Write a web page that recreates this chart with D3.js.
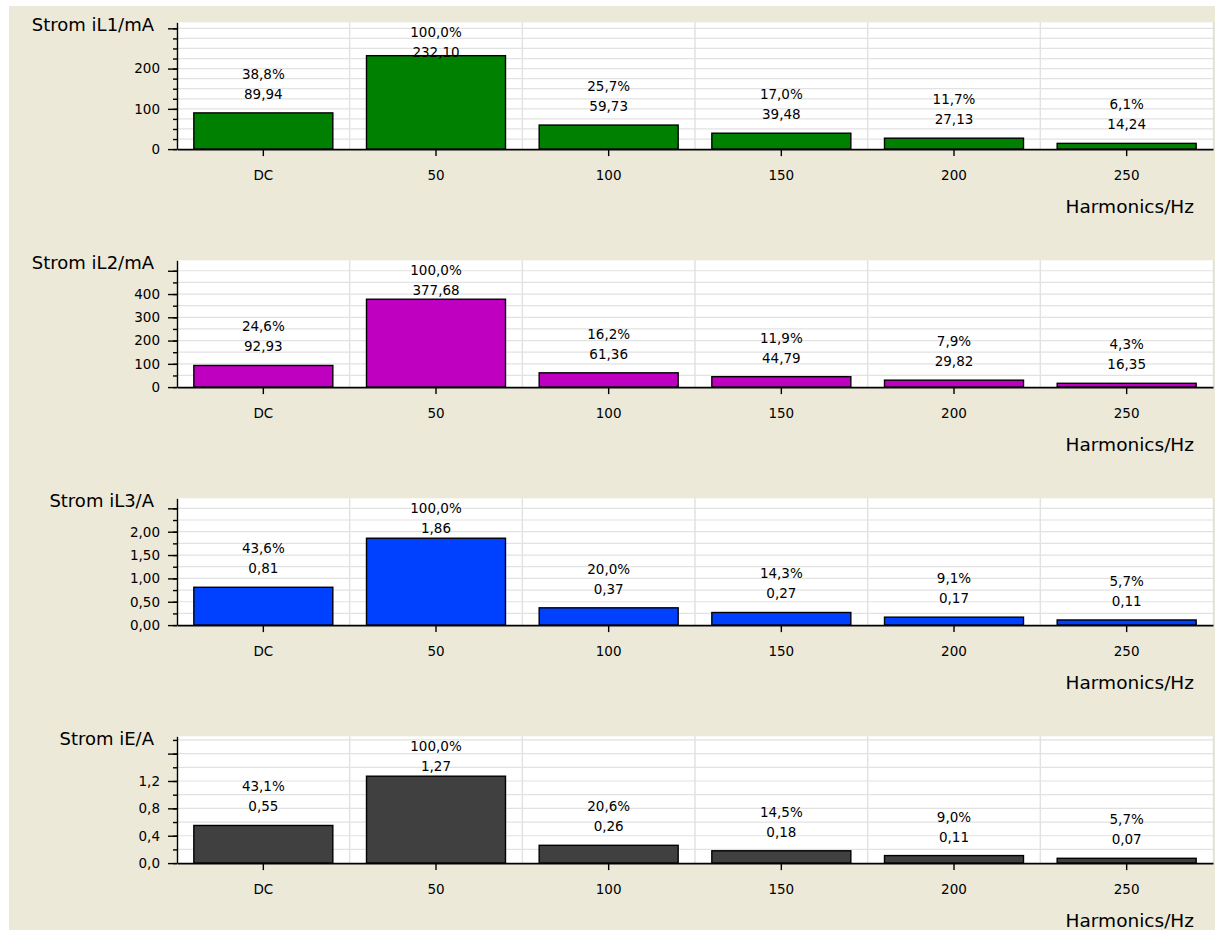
<!DOCTYPE html>
<html>
<head>
<meta charset="utf-8">
<script src="https://cdn.jsdelivr.net/npm/d3@7"></script>
<style>
  html, body { margin: 0; padding: 0; background: #ffffff; }
  svg { display: block; }
  text { font-family: "DejaVu Sans", sans-serif; fill: #000; }
</style>
</head>
<body>
<svg id="chart" width="1215" height="936"></svg>
<script>
// ---------- data ----------
const categories = ["DC", "50", "100", "150", "200", "250"];

const titles = ["Strom iL1/mA", "Strom iL2/mA", "Strom iL3/A", "Strom iE/A"];
const xTitle = "Harmonics/Hz";

const valuesL1 = [89.94, 232.10, 59.73, 39.48, 27.13, 14.24];
const percentL1 = [38.8, 100.0, 25.7, 17.0, 11.7, 6.1];

const valuesL2 = [92.93, 377.68, 61.36, 44.79, 29.82, 16.35];
const percentL2 = [24.6, 100.0, 16.2, 11.9, 7.9, 4.3];

const valuesL3 = [0.81, 1.86, 0.37, 0.27, 0.17, 0.11];
const percentL3 = [43.6, 100.0, 20.0, 14.3, 9.1, 5.7];

const valuesE = [0.55, 1.27, 0.26, 0.18, 0.11, 0.07];
const percentE = [43.1, 100.0, 20.6, 14.5, 9.0, 5.7];

// axis domains and ticks
const yMaxes = [315, 545, 2.715, 1.853];
const majorTicksL1 = [0, 100, 200, 300];
const majorTicksL2 = [0, 100, 200, 300, 400, 500];
const majorTicksL3 = [0, 0.5, 1.0, 1.5, 2.0, 2.5];
const majorTicksE  = [0, 0.4, 0.8, 1.2, 1.6];
const labeledTicksL1 = [0, 100, 200];
const labeledTicksL2 = [0, 100, 200, 300, 400];
const labeledTicksL3 = [0, 0.5, 1.0, 1.5, 2.0];
const labeledTicksE  = [0, 0.4, 0.8, 1.2];
const minorTicksL1 = [0, 25, 50, 75, 100, 125, 150, 175, 200, 225, 250, 275, 300];
const minorTicksL2 = [0, 50, 100, 150, 200, 250, 300, 350, 400, 450, 500];
const minorTicksL3 = [0, 0.25, 0.5, 0.75, 1.0, 1.25, 1.5, 1.75, 2.0, 2.25, 2.5];
const minorTicksE  = [0, 0.2, 0.4, 0.6, 0.8, 1.0, 1.2, 1.4, 1.6, 1.8];
const tickDecimals = [0, 0, 2, 1];
const valueDecimals = [2, 2, 2, 2];

const barColors = ["#008000", "#C000C0", "#0040FF", "#404040"];

// ---------- layout ----------
const svg = d3.select("#chart");
const W = 1215, H = 936;
const plotLeft = 177, plotRight = 1213;
const firstTop = 22.3, panelStep = 238, plotH = 126.8;

svg.append("rect").attr("x", 0).attr("y", 0).attr("width", W).attr("height", H).attr("fill", "#ffffff");
svg.append("rect").attr("x", 9).attr("y", 6).attr("width", W - 9).attr("height", 924).attr("fill", "#ECE9D8");

const panels = [
  { values: valuesL1, percent: percentL1, major: majorTicksL1, labeled: labeledTicksL1, minor: minorTicksL1 },
  { values: valuesL2, percent: percentL2, major: majorTicksL2, labeled: labeledTicksL2, minor: minorTicksL2 },
  { values: valuesL3, percent: percentL3, major: majorTicksL3, labeled: labeledTicksL3, minor: minorTicksL3 },
  { values: valuesE,  percent: percentE,  major: majorTicksE,  labeled: labeledTicksE,  minor: minorTicksE }
];

const fmtComma = (v, d) => v.toFixed(d).replace(".", ",");

const x = d3.scaleBand()
  .domain(categories)
  .range([plotLeft, plotRight])
  .paddingInner(0.195)
  .paddingOuter(0.0975);
const step = x.step();

panels.forEach((p, i) => {
  const top = firstTop + i * panelStep;
  const bottom = top + plotH;
  const y = d3.scaleLinear().domain([0, yMaxes[i]]).range([bottom, top]);
  const g = svg.append("g");

  // plot background
  g.append("rect").attr("x", plotLeft).attr("y", top)
    .attr("width", plotRight - plotLeft).attr("height", plotH).attr("fill", "#ffffff");

  // horizontal grid
  g.selectAll("line.hgrid").data(p.minor.filter(t => t > 0)).join("line")
    .attr("class", "hgrid")
    .attr("x1", plotLeft).attr("x2", plotRight)
    .attr("y1", d => y(d)).attr("y2", d => y(d))
    .attr("stroke", "#E2E2E2").attr("stroke-width", 1.2);

  // vertical grid at category boundaries
  g.selectAll("line.vgrid").data(categories.slice(1)).join("line")
    .attr("class", "vgrid")
    .attr("x1", d => x(d) - step * 0.0975).attr("x2", d => x(d) - step * 0.0975)
    .attr("y1", top).attr("y2", bottom)
    .attr("stroke", "#E2E2E2").attr("stroke-width", 1.5);
  g.append("line")
    .attr("x1", plotRight + 0.5).attr("x2", plotRight + 0.5)
    .attr("y1", top).attr("y2", bottom)
    .attr("stroke", "#E0E0E0").attr("stroke-width", 1.5);

  // bars
  g.selectAll("rect.bar").data(p.values).join("rect")
    .attr("class", "bar")
    .attr("x", (d, j) => x(categories[j]))
    .attr("width", x.bandwidth())
    .attr("y", d => y(d))
    .attr("height", d => bottom - y(d))
    .attr("fill", barColors[i])
    .attr("stroke", "#000").attr("stroke-width", 1.4);

  // value & percent labels
  const valueCenter = d => Math.max(y(d) - 19, top + 30);
  g.selectAll("text.val").data(p.values).join("text")
    .attr("class", "val")
    .attr("x", (d, j) => x(categories[j]) + x.bandwidth() / 2)
    .attr("y", d => valueCenter(d) + 5)
    .attr("text-anchor", "middle")
    .attr("font-size", "13.5px")
    .text(d => fmtComma(d, valueDecimals[i]));
  g.selectAll("text.pct").data(p.percent).join("text")
    .attr("class", "pct")
    .attr("x", (d, j) => x(categories[j]) + x.bandwidth() / 2)
    .attr("y", (d, j) => valueCenter(p.values[j]) - 20 + 5)
    .attr("text-anchor", "middle")
    .attr("font-size", "13.5px")
    .text(d => fmtComma(d, 1) + "%");

  // minor y ticks
  const minorAxis = d3.axisLeft(y).tickValues(p.minor).tickSize(4).tickSizeOuter(0).tickFormat("");
  const gm = g.append("g").attr("transform", `translate(${plotLeft},0)`).call(minorAxis);
  gm.select(".domain").remove();
  gm.selectAll("line").attr("stroke", "#000").attr("stroke-width", 1.4);

  // major y ticks (with labels)
  const majorAxis = d3.axisLeft(y).tickValues(p.major).tickSize(9).tickSizeOuter(0).tickPadding(8)
    .tickFormat(d => p.labeled.some(t => Math.abs(t - d) < 1e-9) ? fmtComma(d, tickDecimals[i]) : "");
  const gy = g.append("g").attr("transform", `translate(${plotLeft},0)`).call(majorAxis);
  gy.select(".domain").attr("stroke", "#000").attr("stroke-width", 1.4);
  gy.selectAll("line").attr("stroke", "#000").attr("stroke-width", 1.4);
  gy.selectAll("text").attr("font-family", "DejaVu Sans").attr("font-size", "13.5px").attr("fill", "#000");

  // x axis
  const xAxis = d3.axisBottom(x).tickSize(7).tickSizeOuter(0).tickPadding(10);
  const gx = g.append("g").attr("transform", `translate(0,${bottom})`).call(xAxis);
  gx.select(".domain").attr("stroke", "#000").attr("stroke-width", 1.6);
  gx.selectAll("line").attr("stroke", "#000").attr("stroke-width", 1.4);
  gx.selectAll("text").attr("font-family", "DejaVu Sans").attr("font-size", "13.5px").attr("fill", "#000")
    .attr("dy", null).attr("y", 31);

  // titles
  g.append("text").attr("x", 154).attr("y", top + 2.5 + 6.5)
    .attr("text-anchor", "end").attr("font-size", "18px").text(titles[i]);
  g.append("text").attr("x", 1194).attr("y", bottom + 57.7 + 6.5)
    .attr("text-anchor", "end").attr("font-size", "18.5px").text(xTitle);
});
</script>
</body>
</html>
